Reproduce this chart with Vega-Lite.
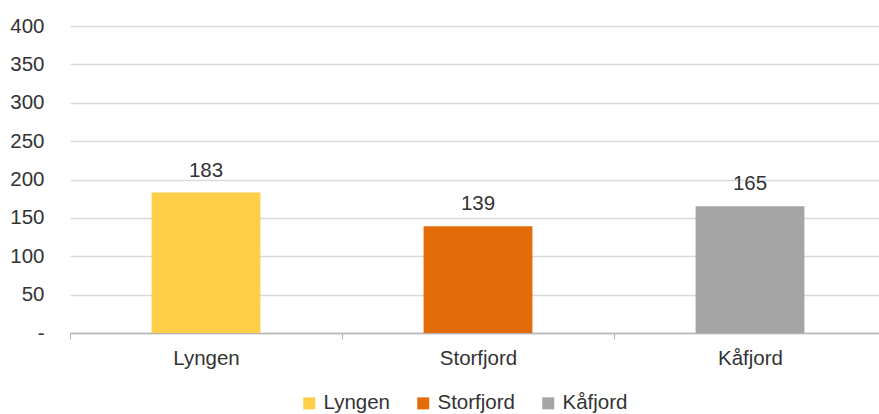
{
  "$schema": "https://vega.github.io/schema/vega-lite/v6.json",
  "autosize": "none",
  "width": 816,
  "height": 307,
  "padding": {"left": 70, "top": 26, "right": 0, "bottom": 81},
  "background": "white",
  "config": {
    "view": {"stroke": null},
    "font": "Liberation Sans",
    "text": {"font": "Liberation Sans"}
  },
  "data": {
    "values": [
      {"kommune": "Lyngen", "verdi": 183},
      {"kommune": "Storfjord", "verdi": 139},
      {"kommune": "Kåfjord", "verdi": 165}
    ]
  },
  "encoding": {
    "x": {
      "field": "kommune",
      "type": "nominal",
      "sort": ["Lyngen", "Storfjord", "Kåfjord"],
      "scale": {"paddingInner": 0, "paddingOuter": 0},
      "axis": {
        "title": null,
        "labelAngle": 0,
        "labelFont": "Liberation Sans",
        "labelFontSize": 20.5,
        "labelColor": "#333333",
        "labelPadding": 9,
        "tickBand": "extent",
        "tickSize": 6,
        "tickColor": "#b4b4b4",
        "domainColor": "#b4b4b4",
        "domainWidth": 1.5,
        "grid": false
      }
    },
    "y": {
      "field": "verdi",
      "type": "quantitative",
      "scale": {"domain": [0, 400]},
      "axis": {
        "title": null,
        "values": [0, 50, 100, 150, 200, 250, 300, 350, 400],
        "labelExpr": "datum.value == 0 ? '-' : datum.label",
        "labelFont": "Liberation Sans",
        "labelFontSize": 20.5,
        "labelColor": "#333333",
        "labelPadding": 26,
        "ticks": false,
        "domain": false,
        "grid": true,
        "gridColor": "#d9d9d9",
        "gridWidth": 1.5
      }
    }
  },
  "layer": [
    {
      "mark": {"type": "bar", "width": {"band": 0.4}},
      "encoding": {
        "color": {
          "field": "kommune",
          "type": "nominal",
          "sort": ["Lyngen", "Storfjord", "Kåfjord"],
          "scale": {
            "domain": ["Lyngen", "Storfjord", "Kåfjord"],
            "range": ["#ffcf48", "#e36c09", "#a5a5a5"]
          },
          "legend": {
            "title": null,
            "orient": "none",
            "direction": "horizontal",
            "legendX": 229,
            "legendY": 367,
            "symbolType": "square",
            "symbolSize": 144,
            "symbolStrokeWidth": 0,
            "labelFont": "Liberation Sans",
            "labelFontSize": 20.5,
            "labelColor": "#333333",
            "labelOffset": 4,
            "columnPadding": 23
          }
        }
      }
    },
    {
      "mark": {
        "type": "text",
        "baseline": "alphabetic",
        "dy": -16,
        "fontSize": 20.5,
        "font": "Liberation Sans",
        "color": "#333333"
      },
      "encoding": {
        "text": {"field": "verdi", "type": "quantitative"}
      }
    }
  ]
}
